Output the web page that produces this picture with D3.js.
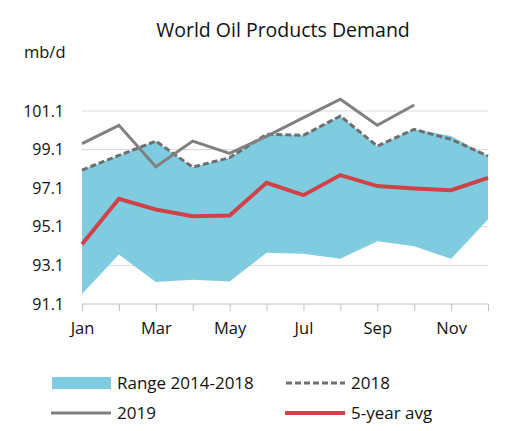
<!DOCTYPE html>
<html>
<head>
<meta charset="utf-8">
<script src="https://cdn.jsdelivr.net/npm/d3@7"></script>
<style>
  body { margin: 0; background: #fff; }
  svg text { font-family: "Open Sans", "Noto Sans", sans-serif; fill: #111; }
</style>
</head>
<body>
<svg id="chart" width="512" height="431"></svg>
<script>
// data
const months = ["Jan", "Feb", "Mar", "Apr", "May", "Jun", "Jul", "Aug", "Sep", "Oct", "Nov", "Dec"];
const rangeLow  = [91.62, 93.66, 92.24, 92.36, 92.27, 93.75, 93.70, 93.45, 94.35, 94.09, 93.44, 95.48];
const rangeHigh = [98.04, 98.80, 99.54, 98.19, 98.68, 99.89, 99.84, 100.84, 99.28, 100.15, 99.80, 98.76];
const y2018 = [98.04, 98.80, 99.54, 98.19, 98.68, 99.89, 99.84, 100.84, 99.28, 100.15, 99.63, 98.76];
const y2019 = [99.41, 100.36, 98.21, 99.54, 98.90, 99.79, 100.76, 101.71, 100.36, 101.41];
const avg5  = [94.20, 96.55, 96.00, 95.65, 95.68, 97.38, 96.74, 97.78, 97.21, 97.09, 97.00, 97.64];
const yTicks = [91.1, 93.1, 95.1, 97.1, 99.1, 101.1];

const svg = d3.select("#chart");

// plot area
const plotLeft = 82, plotRight = 488, plotTop = 111, plotBottom = 304;

const x = d3.scalePoint()
    .domain(months)
    .range([plotLeft, plotRight]);

const y = d3.scaleLinear()
    .domain([91.1, 101.1])
    .range([plotBottom, plotTop]);

// Title and unit
svg.append("text")
    .attr("x", 283)
    .attr("y", 37)
    .attr("text-anchor", "middle")
    .attr("font-size", 19.5)
    .text("World Oil Products Demand");

svg.append("text")
    .attr("x", 24)
    .attr("y", 58)
    .attr("font-size", 16.5)
    .text("mb/d");

// gridlines
svg.append("g")
    .selectAll("line")
    .data(yTicks.slice(1))
    .join("line")
    .attr("x1", plotLeft)
    .attr("x2", plotRight)
    .attr("y1", d => y(d))
    .attr("y2", d => y(d))
    .attr("stroke", "#d9d9d9")
    .attr("stroke-width", 1);

// range band
const area = d3.area()
    .x((d, i) => x(months[i]))
    .y0(d => y(d[0]))
    .y1(d => y(d[1]));

svg.append("path")
    .datum(rangeLow.map((v, i) => [v, rangeHigh[i]]))
    .attr("d", area)
    .attr("fill", "#7fcce0");

const line = d3.line()
    .x((d, i) => x(months[i]))
    .y(d => y(d));

svg.append("path")
    .datum(y2018)
    .attr("d", line)
    .attr("fill", "none")
    .attr("stroke", "#6f6f6f")
    .attr("stroke-width", 3)
    .attr("stroke-dasharray", "6,3");

svg.append("path")
    .datum(y2019)
    .attr("d", line)
    .attr("fill", "none")
    .attr("stroke", "#808080")
    .attr("stroke-width", 3);

svg.append("path")
    .datum(avg5)
    .attr("d", line)
    .attr("fill", "none")
    .attr("stroke", "#cf4348")
    .attr("stroke-width", 4);

// x axis
const xAxis = svg.append("g")
    .attr("transform", `translate(0,${plotBottom})`)
    .call(d3.axisBottom(x).tickSize(7).tickFormat((d, i) => i % 2 === 0 ? d : ""));
xAxis.select(".domain").attr("stroke", "#bfbfbf").attr("d", `M${plotLeft},0H${plotRight}`);
xAxis.selectAll(".tick line").attr("stroke", "#bfbfbf");
xAxis.selectAll(".tick text")
    .attr("font-size", 16.5)
    .attr("dy", 0)
    .attr("y", 30)
    .style("font-family", "'Open Sans', 'Noto Sans', sans-serif")
    .attr("fill", "#111");

// y axis labels
const yAxis = svg.append("g")
    .attr("transform", `translate(${plotLeft},0)`)
    .call(d3.axisLeft(y).tickValues(yTicks).tickSize(0).tickPadding(18).tickFormat(d3.format(".1f")));
yAxis.select(".domain").remove();
yAxis.selectAll(".tick text")
    .attr("font-size", 16)
    .style("font-family", "'Open Sans', 'Noto Sans', sans-serif")
    .attr("fill", "#111");

// legend
const legend = svg.append("g").attr("font-size", 17);
legend.append("rect")
    .attr("x", 52).attr("y", 377).attr("width", 59).attr("height", 12)
    .attr("fill", "#7fcce0");
legend.append("text").attr("x", 117).attr("y", 389).text("Range 2014-2018");

legend.append("line")
    .attr("x1", 286).attr("x2", 345).attr("y1", 383).attr("y2", 383)
    .attr("stroke", "#6f6f6f").attr("stroke-width", 3).attr("stroke-dasharray", "6,3");
legend.append("text").attr("x", 351).attr("y", 389).text("2018");

legend.append("line")
    .attr("x1", 51).attr("x2", 111).attr("y1", 413).attr("y2", 413)
    .attr("stroke", "#808080").attr("stroke-width", 3);
legend.append("text").attr("x", 117).attr("y", 419).text("2019");

legend.append("line")
    .attr("x1", 285).attr("x2", 345).attr("y1", 413).attr("y2", 413)
    .attr("stroke", "#cf4348").attr("stroke-width", 4);
legend.append("text").attr("x", 351).attr("y", 419).text("5-year avg");
</script>
</body>
</html>
